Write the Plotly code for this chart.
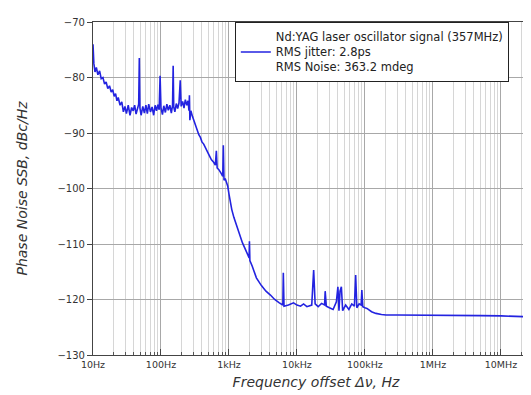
import plotly.graph_objects as go

# Frequency offset (Hz) and SSB phase noise (dBc/Hz)
freq_hz = [
    10, 10.3, 10.7, 11.2, 11.8, 12.5, 13.2, 14, 14.8, 15.6, 16.5, 17.5, 18.5, 19.5,
    20.5, 21.5, 22.5, 23.5, 25, 26.5, 28, 29.5, 31, 33, 35, 37, 39, 41, 43, 45, 47,
    48, 49, 51, 54, 57, 60, 63, 66, 70, 74, 78, 82, 86, 90, 94,
    97, 100, 105, 110, 116, 122, 128, 135, 142, 148,
    151, 154, 160, 168, 176, 184,
    192, 198, 208, 218, 228, 240, 250, 258,
    262, 266, 275, 290, 305, 320, 340, 360, 380, 400, 425, 450, 480, 510, 550, 590, 630,
    652, 670, 710, 760, 810,
    826, 845, 880, 920, 960, 1000, 1050, 1100, 1180, 1290, 1420, 1580, 1750, 1900, 1980,
    2000, 2030, 2200, 2530, 3000, 3500, 4070, 4700, 5500, 6200,
    6300, 6450, 7500, 8900, 10000, 11300, 12500, 14000, 16500,
    17600, 18500, 20500, 23000, 25500,
    26000, 27000, 30000, 34000, 38000,
    40000, 41500, 43000, 45000, 47000, 52000, 58000, 64000, 70000,
    73000, 76000, 82000, 88000,
    90000, 93000, 100000, 107000, 125000, 145000, 175000, 204000, 300000, 500000,
    1e6, 2e6, 5e6, 1e7, 1.6e7, 2.2e7, 2.8e7, 3.3e7, 3.6e7,
]
noise_dbc = [
    -74.0, -77.5, -79.0, -78.2, -79.5, -78.8, -80.2, -80.0, -81.2, -80.8, -82.0, -81.5, -82.6, -82.2,
    -83.4, -82.9, -84.2, -83.6, -85.0, -84.4, -86.2, -85.2, -86.5, -85.0, -86.8, -85.4, -86.0, -85.0, -86.6, -85.6, -84.8,
    -76.5, -85.5, -86.8, -85.2, -86.4, -85.0, -86.5, -84.8, -86.2, -85.3, -86.8, -85.0, -86.0, -84.9, -85.8,
    -79.7, -85.5, -86.7, -85.1, -86.3, -84.8, -85.9, -85.0, -86.4, -85.0,
    -77.9, -85.3, -86.2, -84.7, -85.6, -84.6,
    -80.5, -85.2, -84.3, -85.5, -84.0, -85.0, -84.2, -86.0,
    -83.2, -87.7, -86.0, -87.0, -87.8, -88.6, -89.3, -90.3, -90.8, -91.6, -92.0, -92.7, -93.3, -94.0, -94.8, -95.2, -95.8,
    -93.2, -96.3, -96.6, -97.2, -97.8,
    -92.2, -98.5, -98.2, -99.0, -99.6, -101.0, -102.5, -103.8, -105.2, -106.6, -108.3, -109.8, -111.0, -112.0, -112.5,
    -109.5, -113.0, -114.0, -116.1, -117.5, -118.5, -119.2, -120.0, -120.6, -121.0,
    -115.2, -121.2, -121.0, -120.6, -121.0, -121.2, -120.8, -121.3, -121.0,
    -114.7, -120.8, -121.3, -120.7, -121.0,
    -118.5, -121.2, -121.5, -121.8, -120.4,
    -117.7, -122.0, -118.5, -117.7, -122.0, -121.0, -121.8, -120.8, -121.2,
    -115.6, -121.5, -120.8, -121.0,
    -118.3, -121.3, -121.5, -121.6, -122.2, -122.5, -122.7, -122.8, -122.8, -122.8,
    -122.85, -122.85, -122.9, -122.95, -123.0, -123.1, -123.3, -123.6, -123.8,
]

series_name = "Nd:YAG laser oscillator signal (357MHz)<br>RMS jitter: 2.8ps<br>RMS Noise: 363.2 mdeg"

x_tick_vals = [10, 100, 1e3, 1e4, 1e5, 1e6, 1e7]
x_tick_text = ["10Hz", "100Hz", "1kHz", "10kHz", "100kHz", "1MHz", "10MHz"]
y_tick_vals = [-130, -120, -110, -100, -90, -80, -70]

fig = go.Figure()
fig.add_trace(go.Scatter(
    x=freq_hz, y=noise_dbc, mode="lines", name=series_name,
    line=dict(color="#2323e0", width=1.6),
    showlegend=True,
))

font_family = "DejaVu Sans"
fig.update_layout(
    width=531, height=395,
    margin=dict(l=85, r=0, t=14, b=48),
    paper_bgcolor="white", plot_bgcolor="white",
    font=dict(family=font_family, color="#333333"),
    showlegend=True,
    legend=dict(
        x=0.318, xanchor="left", y=1.0, yanchor="top",
        bgcolor="white", bordercolor="#222222", borderwidth=1,
        font=dict(family=font_family, size=11.5, color="#222222"),
        valign="middle",
    ),
    xaxis=dict(
        type="log", range=[1, 7.56],
        tickvals=x_tick_vals, ticktext=x_tick_text,
        tickfont=dict(size=9.5, color="#333333"),
        ticks="inside", ticklen=6, tickcolor="#444444",
        showgrid=True, gridcolor="#a8a8a8", gridwidth=1,
        minor=dict(dtick="D1", showgrid=True, gridcolor="#d6d6d6", gridwidth=1,
                   ticks="inside", ticklen=3, tickcolor="#555555"),
        showline=True, linecolor="#444444", linewidth=1.2, mirror=True,
        zeroline=False,
        title=dict(text="Frequency offset Δν, Hz", standoff=8,
                   font=dict(family=font_family, size=14, style="italic", color="#333333")),
    ),
    yaxis=dict(
        range=[-130, -70], tickvals=y_tick_vals,
        tickfont=dict(size=10, color="#333333"),
        ticks="outside", ticklen=5, tickcolor="#444444",
        showgrid=True, gridcolor="#a8a8a8", gridwidth=1,
        showline=True, linecolor="#444444", linewidth=1.2,
        zeroline=False,
        title=dict(text="Phase Noise SSB, dBc/Hz", standoff=26,
                   font=dict(family=font_family, size=14, style="italic", color="#333333")),
    ),
)

fig.write_html("out.html")
